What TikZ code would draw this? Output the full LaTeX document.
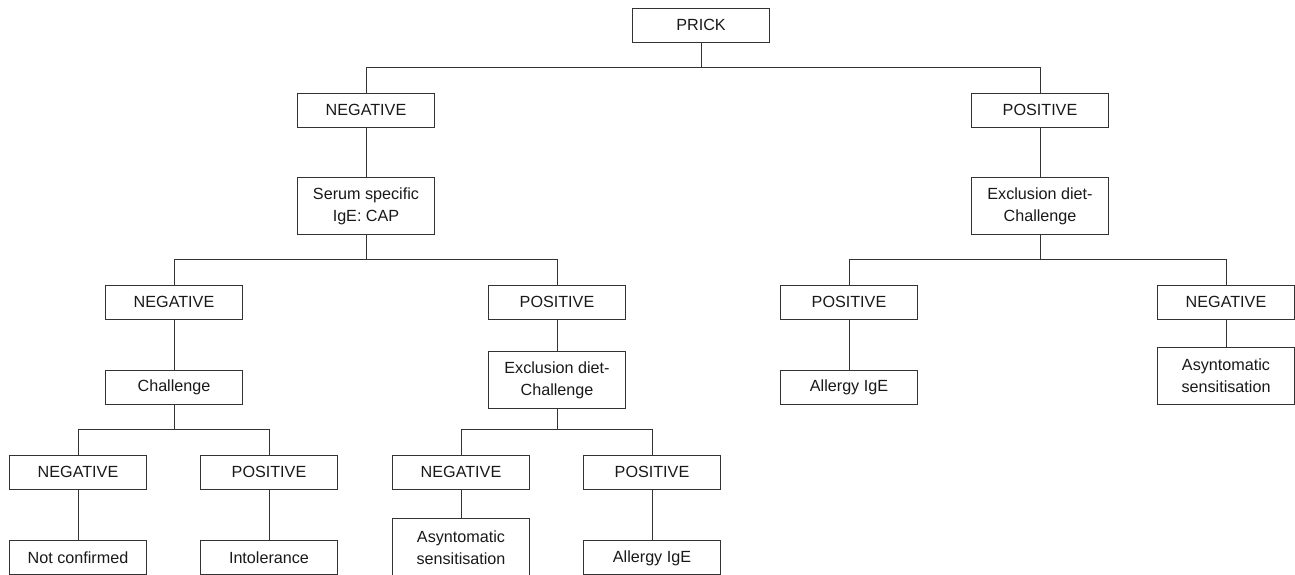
\documentclass[tikz,border=0pt]{standalone}
\usepackage{fontspec}
\setmainfont{Liberation Sans}
\usetikzlibrary{positioning}

\tikzset{
  box/.style={draw=black!80, line width=0.5pt, minimum width=2.74cm, minimum height=0.68cm,
    inner sep=2pt, align=center, font=\fontsize{9.2}{12.5}\selectfont, text=black!90},
  twobox/.style={box, minimum height=1.14cm},
  link/.style={draw=black!80, line width=0.5pt}
}

\begin{document}
\begin{tikzpicture}
  \useasboundingbox (0,0) rectangle (25.9,-11.48);
  \clip (0,0) rectangle (25.9,-11.48);
  \node[box] (prick) at (14.02,-0.5) {PRICK};
  \node[box] (neg1) at (7.32,-2.2) {NEGATIVE};
  \node[box] (pos1) at (20.8,-2.2) {POSITIVE};
  \node[twobox] (serum) at (7.32,-4.12) {Serum specific\\IgE: CAP};
  \node[twobox] (exclr) at (20.8,-4.12) {Exclusion diet-\\Challenge};
  \node[box] (neg2) at (3.48,-6.04) {NEGATIVE};
  \node[box] (pos2) at (11.14,-6.04) {POSITIVE};
  \node[box] (posr) at (16.98,-6.04) {POSITIVE};
  \node[box] (negr) at (24.52,-6.04) {NEGATIVE};
  \node[box] (chal) at (3.48,-7.74) {Challenge};
  \node[twobox] (exclm) at (11.14,-7.6) {Exclusion diet-\\Challenge};
  \node[box] (allergyr) at (16.98,-7.74) {Allergy IgE};
  \node[twobox] (asynr) at (24.52,-7.52) {Asyntomatic\\sensitisation};
  \node[box] (neg3) at (1.56,-9.44) {NEGATIVE};
  \node[box] (pos3) at (5.38,-9.44) {POSITIVE};
  \node[box] (neg4) at (9.22,-9.44) {NEGATIVE};
  \node[box] (pos4) at (13.04,-9.44) {POSITIVE};
  \node[box, below=1.02cm of neg3] (notconf) {Not confirmed};
  \node[box, below=1.02cm of pos3] (intol) {Intolerance};
  \node[twobox, anchor=north] (asynm) at ([yshift=-0.58cm]neg4.south) {Asyntomatic\\sensitisation};
  \node[box, below=1.02cm of pos4] (allergym) {Allergy IgE};
  % forks
  \foreach \p/\c in {prick/neg1, prick/pos1, serum/neg2, serum/pos2, exclr/posr, exclr/negr,
      chal/neg3, chal/pos3, exclm/neg4, exclm/pos4}
    \draw[link] (\p.south) |- ([yshift=0.5cm]\c.north) -- (\c.north);
  % straight links
  \foreach \p/\c in {neg1/serum, pos1/exclr, neg2/chal, pos2/exclm, posr/allergyr, negr/asynr,
      neg3/notconf, pos3/intol, neg4/asynm, pos4/allergym}
    \draw[link] (\p) -- (\c);
\end{tikzpicture}
\end{document}
